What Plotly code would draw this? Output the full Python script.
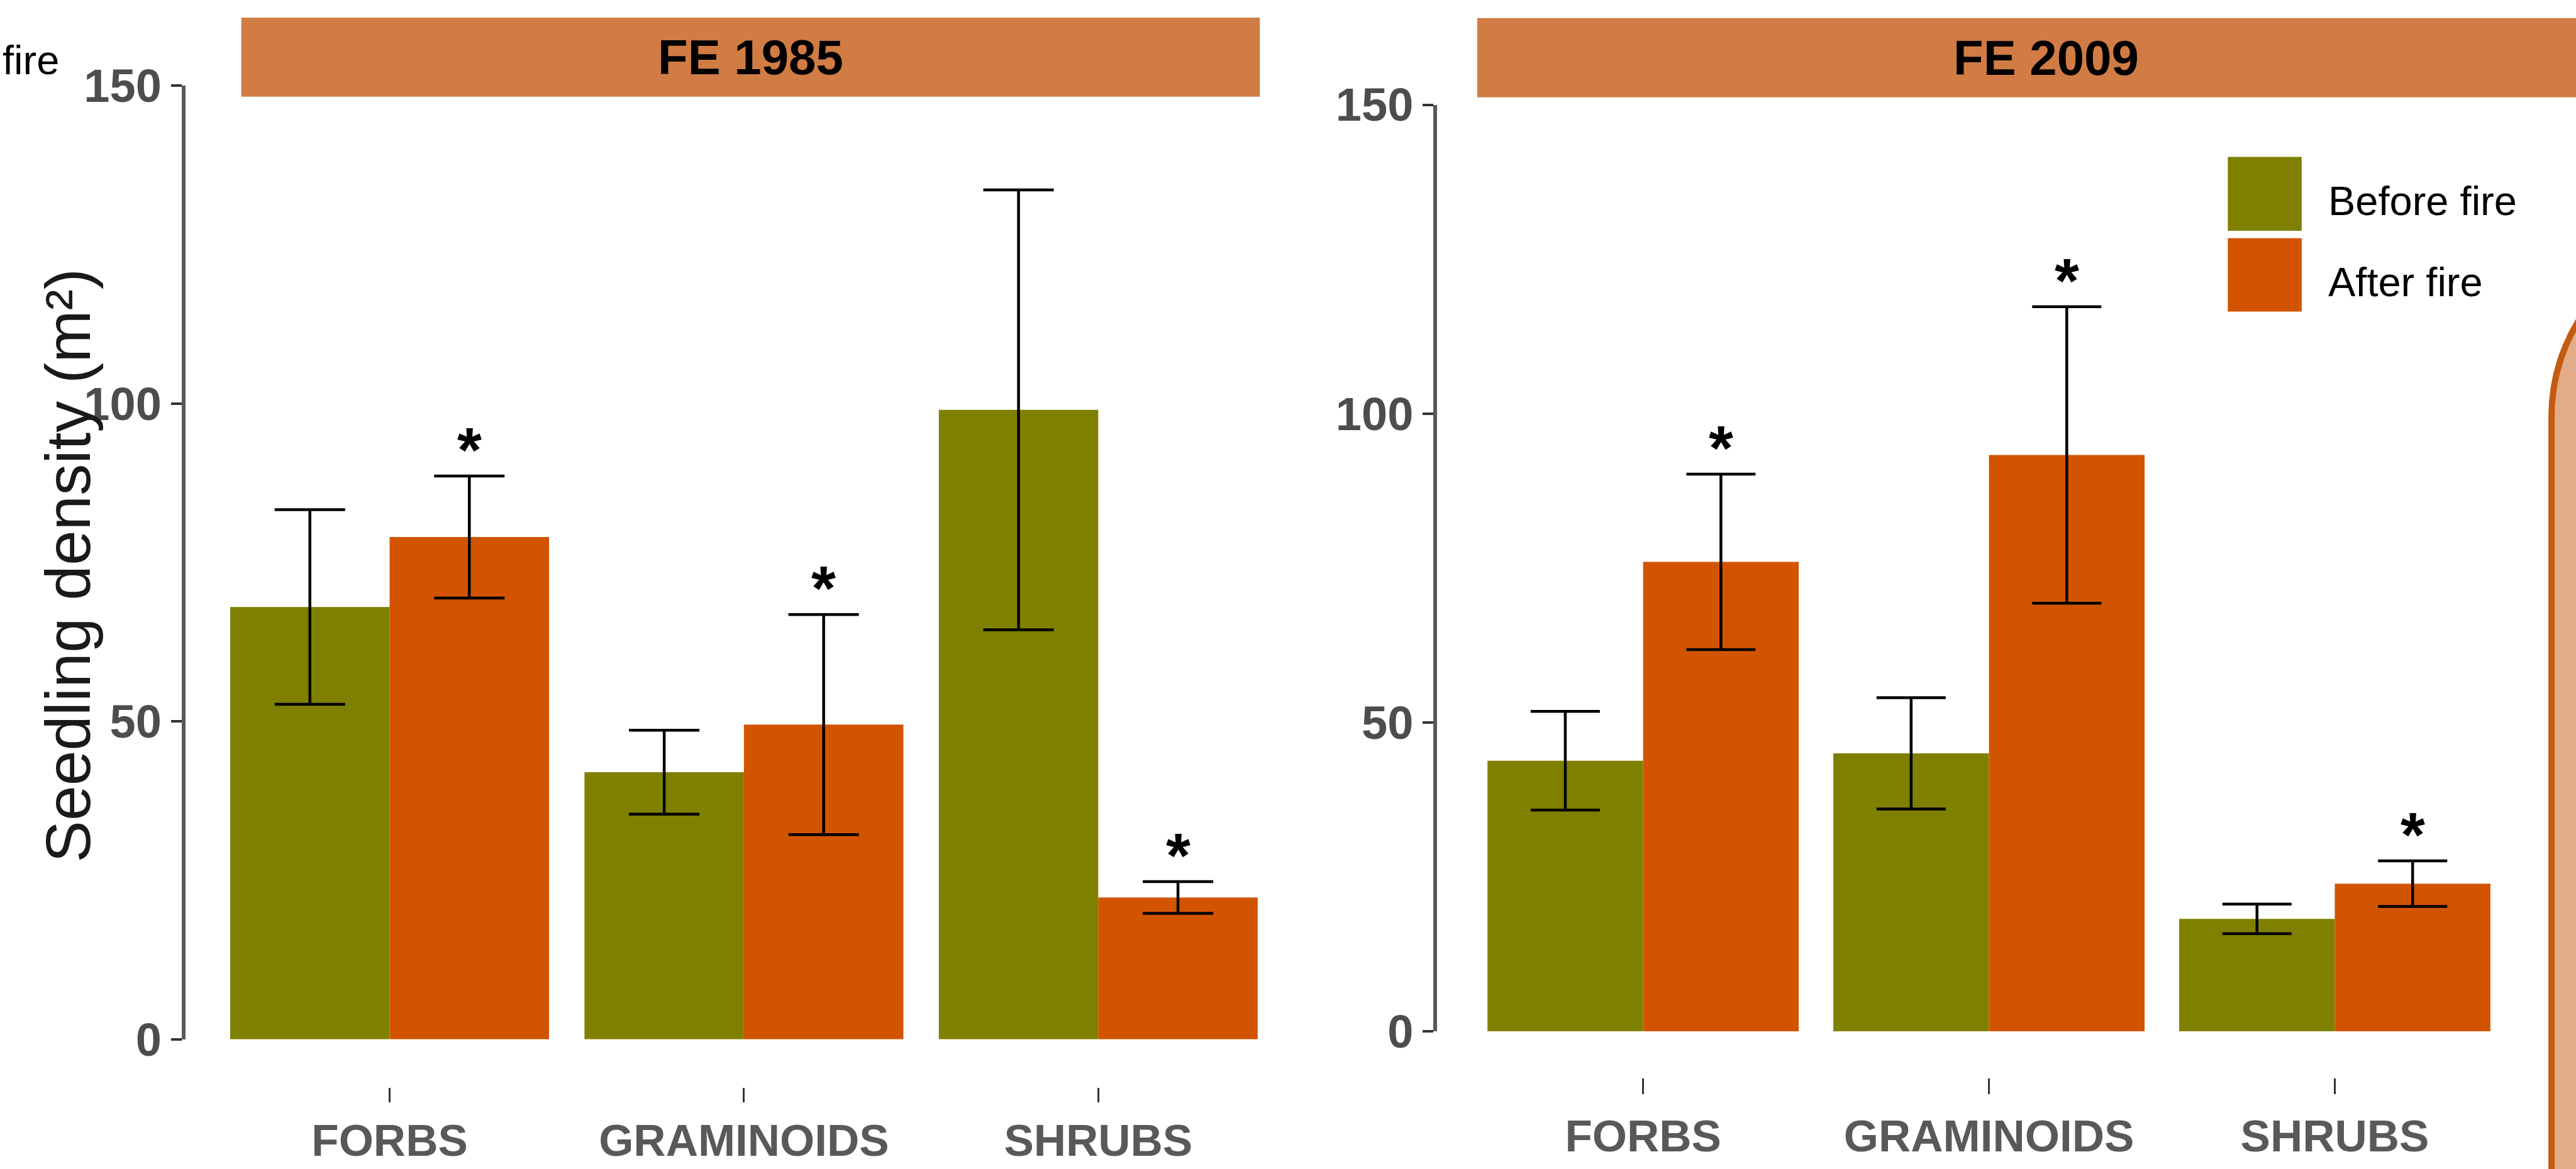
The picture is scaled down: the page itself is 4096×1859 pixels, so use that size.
import plotly.graph_objects as go

# Seedling density before / after fire for two fire events (FE 1985, FE 2009)
groups = ["FORBS", "GRAMINOIDS", "SHRUBS"]
y_ticks = [0, 50, 100, 150]
series_names = ["Before fire", "After fire"]

fe1985_before = [68.0, 42.0, 99.0]
fe1985_before_se = [15.3, 6.6, 34.6]
fe1985_after = [79.0, 49.5, 22.3]
fe1985_after_se = [9.6, 17.3, 2.5]

fe2009_before = [43.8, 45.0, 18.2]
fe2009_before_se = [8.0, 9.0, 2.4]
fe2009_after = [76.0, 93.3, 23.9]
fe2009_after_se = [14.2, 24.0, 3.7]

# which "after fire" bars carry a significance star
fe1985_signif = [True, True, True]
fe2009_signif = [True, True, True]

panel_titles = ["FE 1985", "FE 2009"]

# ---------------------------------------------------------------- geometry
REF_W, REF_H = 4846, 2199
FIG_W, FIG_H = 4096, 1859


def px(x):
    return x / REF_W


def py(y):
    return 1 - y / REF_H


GREEN = "#808000"
ORANGE = "#D35400"
STRIP = "#D17C45"
AXIS_GREY = "#595959"
LABEL_GREY = "#4D4D4D"

fig = go.Figure()

panels = [
    dict(before=fe1985_before, bse=fe1985_before_se, after=fe1985_after, ase=fe1985_after_se,
         signif=fe1985_signif, xa="x", ya="y", errw=56),
    dict(before=fe2009_before, bse=fe2009_before_se, after=fe2009_after, ase=fe2009_after_se,
         signif=fe2009_signif, xa="x2", ya="y2", errw=55),
]

for p in panels:
    for name, vals, se, col in [
        (series_names[0], p["before"], p["bse"], GREEN),
        (series_names[1], p["after"], p["ase"], ORANGE),
    ]:
        fig.add_trace(go.Bar(
            x=groups, y=vals, name=name,
            marker=dict(color=col, line=dict(width=0)),
            error_y=dict(type="data", array=se, visible=True, color="black",
                         thickness=4.5, width=p["errw"]),
            xaxis=p["xa"], yaxis=p["ya"], showlegend=False,
        ))

# significance stars above the "after fire" error bars
for p in panels:
    for i, flag in enumerate(p["signif"]):
        if flag:
            fig.add_annotation(
                x=i + 0.225, y=p["after"][i] + p["ase"][i],
                xref=p["xa"], yref=p["ya"], text="*", showarrow=False,
                yanchor="middle", yshift=42,
                font=dict(family="Liberation Sans", size=100, color="black", weight="bold"),
            )

xtick_font = dict(family="Liberation Sans, Arial", size=71, color=AXIS_GREY, weight="bold")
ytick_font = dict(family="Liberation Sans Narrow, Arial Narrow, Liberation Sans", size=74,
                  color=LABEL_GREY, weight="bold")

common_x = dict(type="category", anchor="free", automargin=False, showline=False,
                showgrid=False, zeroline=False,
                ticks="outside", tickwidth=3, tickcolor="#333333", tickfont=xtick_font,
                categoryorder="array", categoryarray=groups)
common_y = dict(range=[0, 150], anchor="free", automargin=False, showline=True,
                linecolor=AXIS_GREY, linewidth=6,
                showgrid=False, zeroline=False, ticks="outside", ticklen=17, tickwidth=4,
                tickcolor="#333333", tickvals=y_ticks, tickfont=ytick_font)

fig.update_layout(
    width=FIG_W, height=FIG_H,
    margin=dict(l=0, r=0, t=0, b=0, pad=0, autoexpand=False),
    paper_bgcolor="white", plot_bgcolor="rgba(0,0,0,0)",
    barmode="group", bargap=0.1, bargroupgap=0,
    showlegend=False,
    xaxis=dict(common_x, domain=[px(345), px(2370)], range=[-0.582, 2.456],
               position=py(2045), ticklen=23, ticklabelstandoff=0),
    yaxis=dict(common_y, domain=[py(1955), py(161)], position=px(345)),
    xaxis2=dict(common_x, domain=[px(2700), px(4700)], range=[-0.601, 2.473],
                position=py(2027), ticklen=25, ticklabelstandoff=6),
    yaxis2=dict(common_y, domain=[py(1940), py(197)], position=px(2700)),
)

# facet strips
strips = [(454, 2370, 33, 182, 1412), (2779, 4900, 34, 183, 3849)]
for (x0, x1, y0, y1, xc), title in zip(strips, panel_titles):
    fig.add_shape(type="rect", xref="paper", yref="paper",
                  x0=px(x0), x1=px(x1), y0=py(y1), y1=py(y0),
                  fillcolor=STRIP, line=dict(width=0), layer="below")
    fig.add_annotation(x=px(xc), y=py((y0 + y1) / 2), xref="paper", yref="paper",
                       text=title, showarrow=False, xanchor="center", yanchor="middle",
                       font=dict(family="Liberation Sans, Arial", size=78, color="black",
                                 weight="bold"))

# y axis title
fig.add_annotation(x=px(128), y=py(1064), xref="paper", yref="paper",
                   text="Seedling density (m²)", textangle=-90, showarrow=False,
                   xanchor="center", yanchor="middle",
                   font=dict(family="Liberation Sans, Arial", size=100, color="#1A1A1A"))

# legend drawn as keys + labels
leg_font = dict(family="Liberation Sans, Arial", size=65, color="black")
for (y0, y1), col, label in [((295, 434), GREEN, series_names[0]),
                             ((448, 586), ORANGE, series_names[1])]:
    fig.add_shape(type="rect", xref="paper", yref="paper",
                  x0=px(4191), x1=px(4330), y0=py(y1), y1=py(y0),
                  fillcolor=col, line=dict(width=0))
    fig.add_annotation(x=px(4378), y=py((y0 + y1) / 2 + 14), xref="paper", yref="paper",
                       text=label, showarrow=False, xanchor="left", yanchor="middle",
                       font=leg_font)

# trailing word of a neighbouring legend at the left edge
fig.add_annotation(x=px(2), y=py(113), xref="paper", yref="paper", text="fire",
                   showarrow=False, xanchor="left", yanchor="middle", font=leg_font)

# rounded side panel on the right
xl, yt, r = 4800, 441, 342
path = (f"M {px(xl)},{py(2300)} L {px(xl)},{py(yt + r)} "
        f"C {px(xl)},{py(yt + r - 0.5523 * r)} {px(xl + r - 0.5523 * r)},{py(yt)} {px(xl + r)},{py(yt)} "
        f"L {px(5400)},{py(yt)} L {px(5400)},{py(2300)} Z")
fig.add_shape(type="path", xref="paper", yref="paper", path=path,
              fillcolor="#E2AC88", line=dict(color="#C55A11", width=10))

fig.write_html("out.html")
